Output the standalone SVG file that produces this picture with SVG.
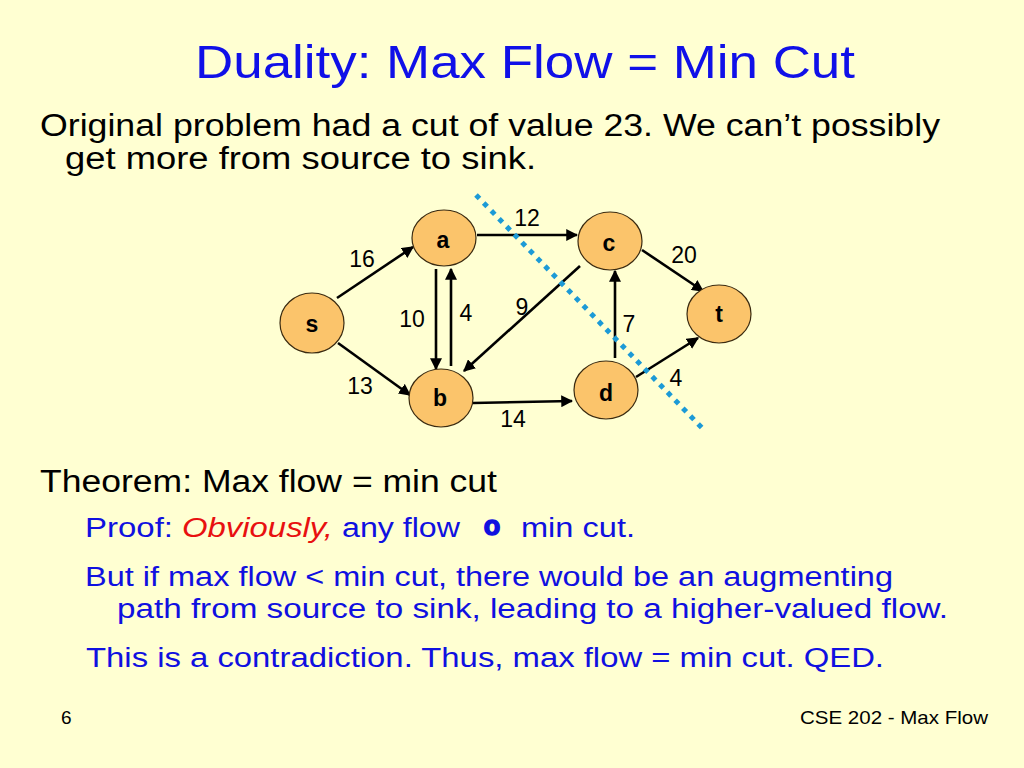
<svg xmlns="http://www.w3.org/2000/svg" width="1024" height="768" viewBox="0 0 1024 768">
<defs>
<style>
.t{font-family:"Liberation Sans","DejaVu Sans",sans-serif;}
.title{font-size:46px;fill:#1010e8;}
.body{font-size:31px;fill:#000;}
.blue{font-size:27px;fill:#1010e0;}
.red{fill:#e81010;font-style:italic;}
.node{fill:#fbc46b;stroke:#3a2a10;stroke-width:1.2;}
.nl{font-size:23px;font-weight:bold;fill:#000;text-anchor:middle;}
.el{font-size:23px;fill:#000;text-anchor:middle;}
.edge{stroke:#000;stroke-width:2.6;fill:none;marker-end:url(#ah);}
.foot{font-size:19px;fill:#000;}
</style>
<marker id="ah" viewBox="0 0 10 10" refX="9" refY="5" markerWidth="4.6" markerHeight="4.6" orient="auto" markerUnits="strokeWidth">
<path d="M0,0 L10,5 L0,10 z" fill="#000"/>
</marker>
</defs>
<rect width="1024" height="768" fill="#ffffd2"/>
<text class="t title" x="195" y="78" textLength="660" lengthAdjust="spacingAndGlyphs">Duality: Max Flow = Min Cut</text>
<text class="t body" x="40" y="136" textLength="900" lengthAdjust="spacingAndGlyphs">Original problem had a cut of value 23. We can’t possibly</text>
<text class="t body" x="65" y="169" textLength="471" lengthAdjust="spacingAndGlyphs">get more from source to sink.</text>

<g id="connectors">
<line class="edge" x1="337" y1="298" x2="413" y2="247"/>
<line class="edge" x1="338" y1="343" x2="410" y2="395"/>
<line class="edge" x1="477" y1="235" x2="577" y2="235"/>
<line class="edge" x1="436" y1="269" x2="436" y2="369"/>
<line class="edge" x1="451" y1="366" x2="451" y2="269"/>
<line class="edge" x1="580" y1="266" x2="464" y2="371"/>
<line class="edge" x1="473" y1="403" x2="572" y2="401"/>
<line class="edge" x1="615" y1="358" x2="615" y2="271"/>
<line class="edge" x1="642" y1="250" x2="703" y2="291"/>
<line class="edge" x1="636" y1="377" x2="698" y2="338"/>
</g>

<g id="edge-labels">
<text class="t el" x="362" y="267">16</text>
<text class="t el" x="527" y="226">12</text>
<text class="t el" x="684" y="263">20</text>
<text class="t el" x="412" y="327">10</text>
<text class="t el" x="466" y="321">4</text>
<text class="t el" x="522" y="315">9</text>
<text class="t el" x="629" y="332">7</text>
<text class="t el" x="360" y="394">13</text>
<text class="t el" x="513" y="427">14</text>
<text class="t el" x="676" y="386">4</text>
</g>

<g id="node-s"><ellipse class="node" cx="312" cy="323" rx="32" ry="30"/><text class="t nl" x="312" y="332">s</text></g>
<g id="node-a"><ellipse class="node" cx="444" cy="238" rx="32" ry="28"/><text class="t nl" x="443" y="248">a</text></g>
<g id="node-b"><ellipse class="node" cx="441" cy="398" rx="32" ry="29"/><text class="t nl" x="440" y="406">b</text></g>
<g id="node-c"><ellipse class="node" cx="610" cy="241" rx="32" ry="29"/><text class="t nl" x="609" y="251">c</text></g>
<g id="node-d"><ellipse class="node" cx="606" cy="390" rx="32" ry="29"/><text class="t nl" x="606" y="401">d</text></g>
<g id="node-t"><ellipse class="node" cx="719" cy="314" rx="32" ry="29"/><text class="t nl" x="719" y="322">t</text></g>

<g id="cut">
<line x1="476" y1="195" x2="705" y2="431" stroke="#1c9ad6" stroke-width="5" stroke-dasharray="5,6"/>
</g>

<text class="t body" x="40" y="492" textLength="457" lengthAdjust="spacingAndGlyphs">Theorem: Max flow = min cut</text>
<text class="t blue" x="85" y="537" textLength="88" lengthAdjust="spacingAndGlyphs">Proof:</text>
<text class="t blue red" x="182" y="537" textLength="151" lengthAdjust="spacingAndGlyphs">Obviously,</text>
<text class="t blue" x="342" y="537" textLength="118" lengthAdjust="spacingAndGlyphs">any flow</text>
<text class="t blue" x="492" y="535" font-weight="bold" font-size="36" text-anchor="middle" stroke="#1010e0" stroke-width="1.5">o</text>
<text class="t blue" x="521" y="537" textLength="114" lengthAdjust="spacingAndGlyphs">min cut.</text>
<text class="t blue" x="85" y="586" textLength="808" lengthAdjust="spacingAndGlyphs">But if max flow &lt; min cut, there would be an augmenting</text>
<text class="t blue" x="117" y="618" textLength="831" lengthAdjust="spacingAndGlyphs">path from source to sink, leading to a higher-valued flow.</text>
<text class="t blue" x="86" y="667" textLength="798" lengthAdjust="spacingAndGlyphs">This is a contradiction. Thus, max flow = min cut. QED.</text>
<text class="t foot" x="61" y="724">6</text>
<text class="t foot" x="800" y="724" textLength="188" lengthAdjust="spacingAndGlyphs">CSE 202 - Max Flow</text>
</svg>
